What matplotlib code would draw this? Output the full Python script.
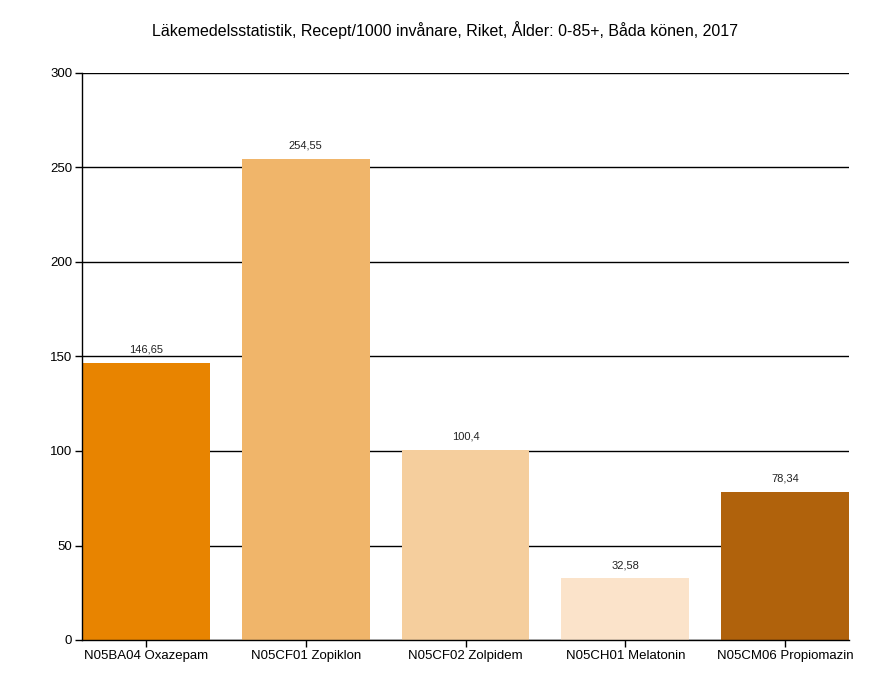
import matplotlib
matplotlib.use("Agg")
import matplotlib.pyplot as plt

categories = ["N05BA04 Oxazepam", "N05CF01 Zopiklon", "N05CF02 Zolpidem",
              "N05CH01 Melatonin", "N05CM06 Propiomazin"]
values = [146.65, 254.55, 100.4, 32.58, 78.34]
value_labels = ["146,65", "254,55", "100,4", "32,58", "78,34"]
colors = ["#E88400", "#F0B56A", "#F5CE9D", "#FBE3CA", "#B0620C"]
yticks = [0, 50, 100, 150, 200, 250, 300]
title = "Läkemedelsstatistik, Recept/1000 invånare, Riket, Ålder: 0-85+, Båda könen, 2017"

plt.rcParams['font.family'] = ['Liberation Sans', 'DejaVu Sans']

fig = plt.figure(figsize=(8.9, 7), dpi=100)
ax = fig.add_axes([82/890, 1-640/700, (849-82)/890, (640-73)/700])

x = list(range(len(categories)))
bars = ax.bar(x, values, width=0.8, color=colors, zorder=2)
for xi, v, lab in zip(x, values, value_labels):
    ax.annotate(lab, (xi, v), xytext=(0, 6), textcoords="offset points",
                ha="center", va="bottom", fontsize=8, color="#222222")

ax.set_xlim(-0.4, 4.4)
ax.set_ylim(0, 300)
ax.set_yticks(yticks)
ax.set_yticklabels([str(t) for t in yticks], fontsize=9.5)
ax.set_xticks(x)
ax.set_xticklabels(categories, fontsize=9.5)
ax.yaxis.grid(True, color="black", linewidth=1, zorder=1)
ax.set_axisbelow(True)
for s in ["top", "right"]:
    ax.spines[s].set_visible(False)
for s in ["left", "bottom"]:
    ax.spines[s].set_color("black")
    ax.spines[s].set_linewidth(1)
    ax.spines[s].set_zorder(3)
ax.tick_params(axis="both", length=5, width=1, color="black", pad=2)

fig.text(0.5, 1-30/700, title, ha="center", va="center", fontsize=11.5)

fig.savefig("out.png", dpi=100)
